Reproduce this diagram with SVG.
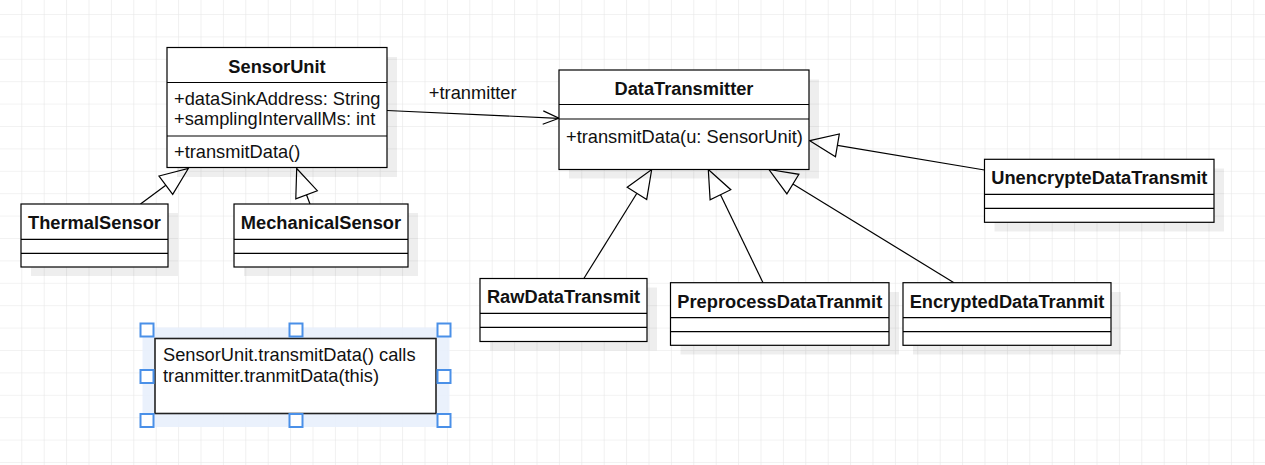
<svg xmlns="http://www.w3.org/2000/svg" width="1265" height="465" viewBox="0 0 1265 465">
<style>
.box{fill:#fff;stroke:#000;stroke-width:1.2}
.sh{fill:#000;fill-opacity:0.065}
.div{stroke:#000;stroke-width:1.2;fill:none}
.t{font-family:"Liberation Sans",Arial,sans-serif;font-size:18.25px;fill:#111}
.b{font-weight:bold;text-anchor:middle}
.edge{stroke:#000;stroke-width:1.2;fill:none}
.tri{fill:#fff;stroke:#000;stroke-width:1.2;stroke-linejoin:miter}
.h{fill:#fff;stroke:#4a90e8;stroke-width:2}
</style>
<defs>
<pattern id="grid" x="21.3" y="14" width="22.4" height="22.4" patternUnits="userSpaceOnUse">
<path d="M0 0H22.4M0 0V22.4" stroke="#e6e6e6" stroke-width="1.2" fill="none"/>
</pattern>
</defs>
<rect width="1265" height="465" fill="#fff"/>
<rect width="1265" height="465" fill="url(#grid)"/>

<g id="connectors">
<line class="edge" x1="387" y1="110.5" x2="558.5" y2="118.3"/>
<polyline class="edge" points="543.3,110.9 559,118.3 542.7,124.3"/>
<text class="t" x="472.7" y="99" text-anchor="middle">+tranmitter</text>

<line class="edge" x1="140.5" y1="204" x2="165.8" y2="185.2"/>
<polygon class="tri" points="188.3,168.5 172.7,194.4 159,176"/>

<line class="edge" x1="310" y1="204" x2="306.5" y2="194.7"/>
<polygon class="tri" points="296.7,168.5 317.3,190.7 295.8,198.8"/>

<line class="edge" x1="584" y1="278.3" x2="636.9" y2="193.3"/>
<polygon class="tri" points="651.7,169.5 646.7,199.4 627.2,187.2"/>

<line class="edge" x1="763" y1="282.7" x2="720.5" y2="194.7"/>
<polygon class="tri" points="708.3,169.5 730.8,189.7 710.1,199.7"/>

<line class="edge" x1="954" y1="282.7" x2="792.9" y2="184.1"/>
<polygon class="tri" points="769,169.5 798.9,174.3 786.9,193.9"/>

<line class="edge" x1="984.5" y1="170" x2="837.4" y2="145.3"/>
<polygon class="tri" points="809.8,140.7 839.3,134 835.5,156.7"/>
</g>

<g id="SensorUnit">
<rect class="sh" x="177" y="57" width="220" height="120"/>
<rect class="box" x="167" y="47.5" width="220" height="120"/>
<path class="div" d="M167 82.5H387M167 136H387"/>
<text class="t b" x="277" y="72.5">SensorUnit</text>
<text class="t" x="174" y="104.5">+dataSinkAddress: String</text>
<text class="t" x="174" y="124.5">+samplingIntervallMs: int</text>
<text class="t" x="174" y="158">+transmitData()</text>
</g>

<g id="DataTransmitter">
<rect class="sh" x="569" y="79.5" width="250" height="99"/>
<rect class="box" x="559" y="70" width="250" height="99.5"/>
<path class="div" d="M559 104.5H809M559 119H809"/>
<text class="t b" x="684" y="95">DataTransmitter</text>
<text class="t" x="566" y="142.5">+transmitData(u: SensorUnit)</text>
</g>

<g id="ThermalSensor">
<rect class="sh" x="31" y="213" width="147" height="63"/>
<rect class="box" x="21" y="204" width="147" height="63"/>
<path class="div" d="M21 239.3H168M21 253.3H168"/>
<text class="t b" x="94.5" y="229">ThermalSensor</text>
</g>

<g id="MechanicalSensor">
<rect class="sh" x="244" y="213" width="174" height="63"/>
<rect class="box" x="234" y="204" width="174" height="63"/>
<path class="div" d="M234 239.3H408M234 253.3H408"/>
<text class="t b" x="321" y="229">MechanicalSensor</text>
</g>

<g id="RawDataTransmit">
<rect class="sh" x="490" y="287.5" width="167" height="63"/>
<rect class="box" x="480" y="278.5" width="167" height="63"/>
<path class="div" d="M480 313.3H647M480 327.3H647"/>
<text class="t b" x="563.5" y="303">RawDataTransmit</text>
</g>

<g id="PreprocessDataTranmit">
<rect class="sh" x="680.5" y="292" width="218.5" height="62.5"/>
<rect class="box" x="670.5" y="282.7" width="218.5" height="62.6"/>
<path class="div" d="M670.5 317.7H889M670.5 331.7H889"/>
<text class="t b" x="779.8" y="307.5">PreprocessDataTranmit</text>
</g>

<g id="EncryptedDataTranmit">
<rect class="sh" x="913" y="292" width="208" height="62.5"/>
<rect class="box" x="903" y="282.7" width="208" height="62.6"/>
<path class="div" d="M903 317.7H1111M903 331.7H1111"/>
<text class="t b" x="1007" y="307.5">EncryptedDataTranmit</text>
</g>

<g id="UnencrypteDataTransmit">
<rect class="sh" x="994.5" y="168.5" width="229.5" height="63"/>
<rect class="box" x="984.5" y="159.3" width="229.5" height="63"/>
<path class="div" d="M984.5 194.3H1214M984.5 208.3H1214"/>
<text class="t b" x="1099.3" y="184.3">UnencrypteDataTransmit</text>
</g>

<g id="Note">
<rect x="142.5" y="327.5" width="307" height="99.5" fill="#e8f0fc" fill-opacity="0.9"/>
<rect x="155" y="338.5" width="281" height="75" fill="#fff" stroke="#222" stroke-width="1.6"/>
<text class="t" x="163" y="360.7">SensorUnit.transmitData() calls</text>
<text class="t" x="163" y="382.4">tranmitter.tranmitData(this)</text>
</g>

<g id="selection">
<rect class="h" x="140.5" y="323.5" width="13" height="13"/>
<rect class="h" x="289.5" y="323.5" width="13" height="13"/>
<rect class="h" x="437.5" y="323.5" width="13" height="13"/>
<rect class="h" x="140.5" y="370" width="13" height="13"/>
<rect class="h" x="437.5" y="370" width="13" height="13"/>
<rect class="h" x="140.5" y="414" width="13" height="13"/>
<rect class="h" x="289.5" y="414" width="13" height="13"/>
<rect class="h" x="437.5" y="414" width="13" height="13"/>
</g>
</svg>
